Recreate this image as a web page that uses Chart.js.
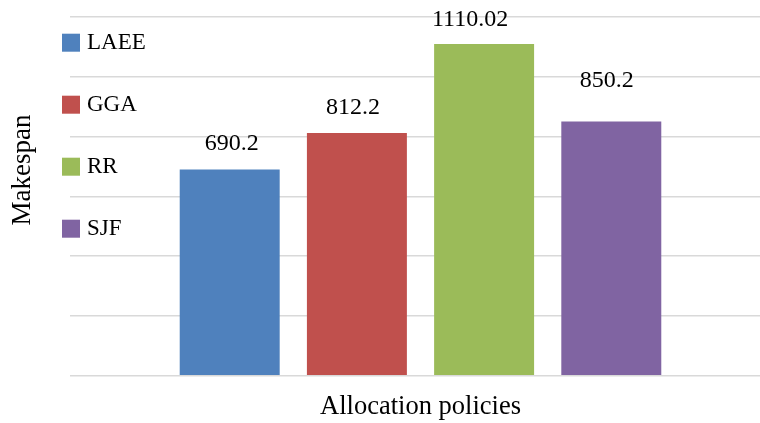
<!DOCTYPE html>
<html>
<head>
<meta charset="utf-8">
<script src="https://cdn.jsdelivr.net/npm/chart.js@4/dist/chart.umd.min.js"></script>
<style>
  html, body { margin: 0; padding: 0; background: #fff; overflow: hidden; width: 760px; height: 423px; }
  #c { display: block; }
</style>
</head>
<body>
<canvas id="c" width="771" height="423"></canvas>
<script>
// ---- data ----
const categories = ['Allocation policies'];
const seriesNames = ['LAEE', 'GGA', 'RR', 'SJF'];
const laeeValues = [690.2];
const ggaValues = [812.2];
const rrValues = [1110.02];
const sjfValues = [850.2];
const valueLabels = ['690.2', '812.2', '1110.02', '850.2'];
const yTickValues = [0, 200, 400, 600, 800, 1000, 1200];
const yAxisTitle = 'Makespan';
const xAxisTitle = 'Allocation policies';

// ---- styles ----
const colors = ['#4f81bd', '#c0504d', '#9bbb59', '#8064a2'];
const labelDx = [2, -4, -14, -4.5];
const labelDy = [19, 19, 18, 35];
const FONT = "'Liberation Serif', 'Times New Roman', serif";

const seriesValues = [laeeValues, ggaValues, rrValues, sjfValues];

const datasets = seriesNames.map((name, i) => ({
  label: name,
  data: seriesValues[i],
  backgroundColor: colors[i],
  borderWidth: 0,
  barPercentage: 0.786,
  categoryPercentage: 0.7258
}));

const valueLabelPlugin = {
  id: 'valueLabels',
  afterDatasetsDraw(chart) {
    const ctx = chart.ctx;
    ctx.save();
    ctx.font = '24px ' + FONT;
    ctx.fillStyle = '#000';
    ctx.textAlign = 'center';
    ctx.textBaseline = 'alphabetic';
    chart.data.datasets.forEach((ds, i) => {
      const meta = chart.getDatasetMeta(i);
      meta.data.forEach((bar) => {
        ctx.fillText(valueLabels[i], bar.x + labelDx[i], bar.y - labelDy[i]);
      });
    });
    ctx.restore();
  }
};

const insideLegendPlugin = {
  id: 'insideLegend',
  afterDraw(chart) {
    const ctx = chart.ctx;
    ctx.save();
    ctx.font = '23px ' + FONT;
    ctx.fillStyle = '#000';
    ctx.textAlign = 'left';
    ctx.textBaseline = 'middle';
    const x0 = 62, y0 = 42.7, step = 62, box = 18;
    chart.data.datasets.forEach((ds, i) => {
      const cy = y0 + i * step;
      ctx.fillStyle = ds.backgroundColor;
      ctx.fillRect(x0, cy - box / 2, box, box);
      ctx.fillStyle = '#000';
      ctx.fillText(ds.label, x0 + 25, cy);
    });
    ctx.restore();
  }
};

const yTitlePlugin = {
  id: 'yTitle',
  afterDraw(chart) {
    const ctx = chart.ctx;
    ctx.save();
    ctx.font = '27px ' + FONT;
    ctx.fillStyle = '#000';
    ctx.textAlign = 'center';
    ctx.textBaseline = 'middle';
    ctx.translate(23, 170);
    ctx.rotate(-Math.PI / 2);
    ctx.fillText(yAxisTitle, 0, 0);
    ctx.restore();
  }
};

new Chart(document.getElementById('c'), {
  type: 'bar',
  data: { labels: categories, datasets },
  options: {
    responsive: false,
    devicePixelRatio: 1,
    animation: false,
    layout: { padding: { left: 70, right: 0, top: 17, bottom: 0 } },
    plugins: {
      legend: { display: false },
      tooltip: { enabled: false }
    },
    scales: {
      x: {
        grid: { display: false, drawTicks: false },
        border: { display: false },
        ticks: { display: false },
        title: {
          display: true,
          text: xAxisTitle,
          color: '#000',
          font: { family: FONT, size: 26.5 },
          padding: { top: 15.5, bottom: 0 }
        }
      },
      y: {
        min: yTickValues[0],
        max: yTickValues[yTickValues.length - 1],
        afterBuildTicks(scale) {
          scale.ticks = yTickValues.map(v => ({ value: v }));
        },
        grid: { color: '#d9d9d9', lineWidth: 1.5, drawTicks: false },
        border: { display: false },
        ticks: { display: false }
      }
    }
  },
  plugins: [valueLabelPlugin, insideLegendPlugin, yTitlePlugin]
});
</script>
</body>
</html>
